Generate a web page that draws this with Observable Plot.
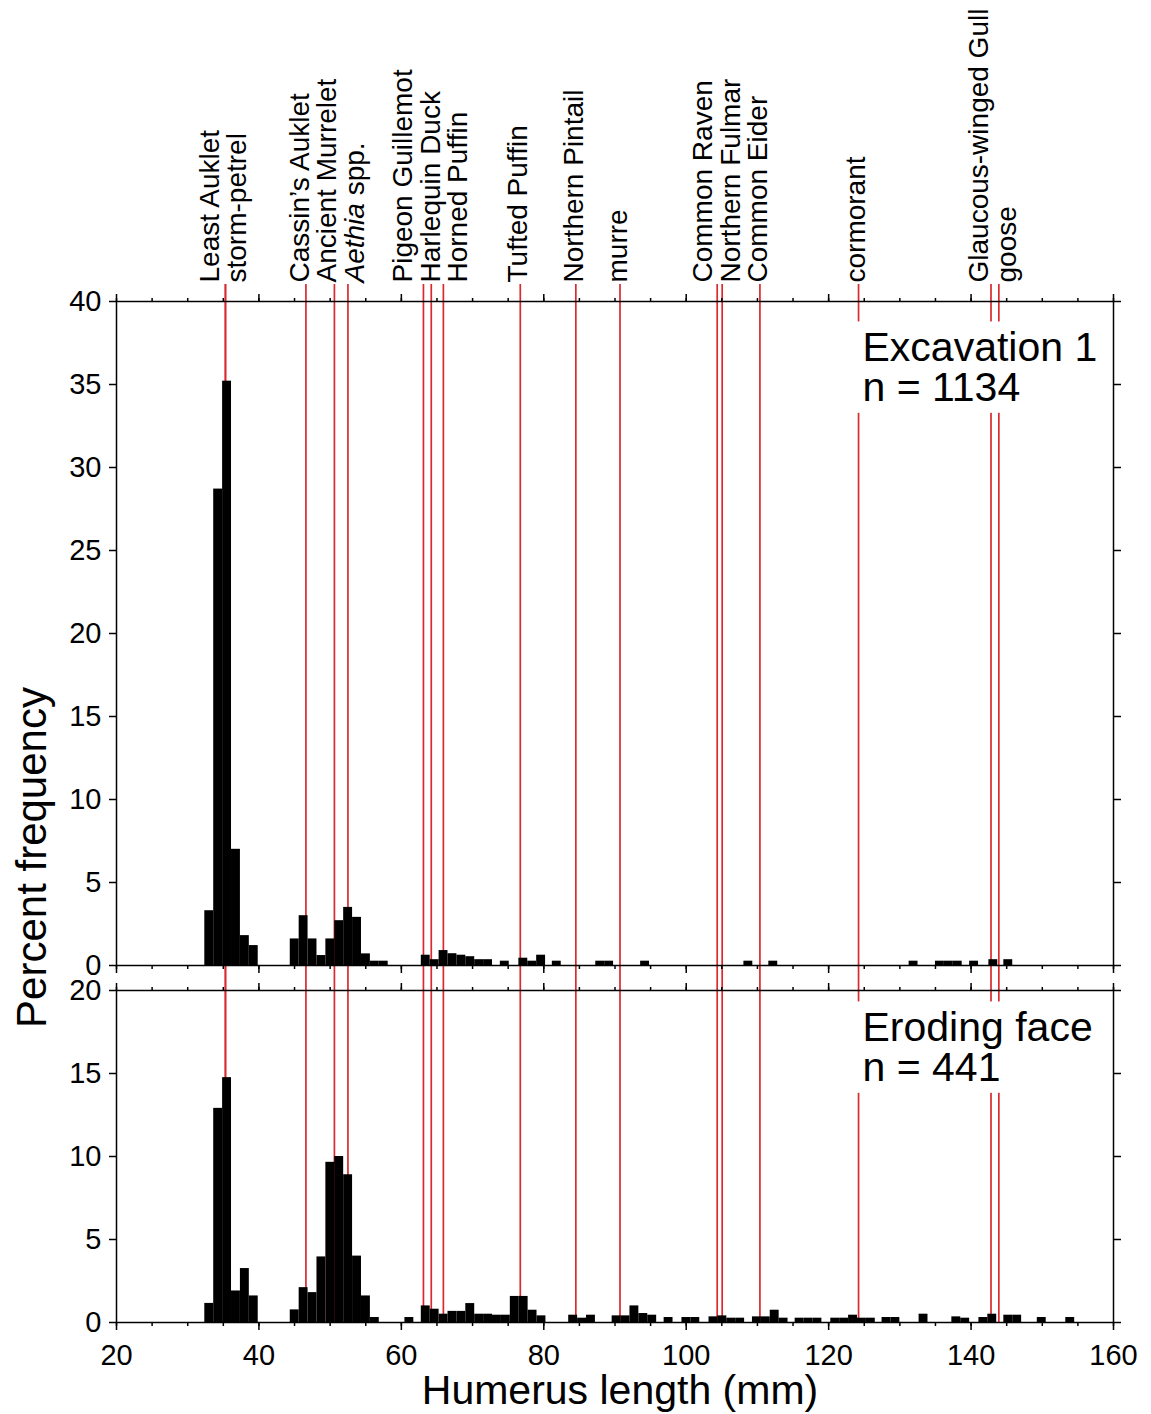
<!DOCTYPE html>
<html>
<head>
<meta charset="utf-8">
<script src="https://cdn.jsdelivr.net/npm/d3@7"></script>
<script src="https://cdn.jsdelivr.net/npm/@observablehq/plot@0.6"></script>
<style>
  body { margin: 0; background: #ffffff; }
  #chart { position: relative; width: 1151px; height: 1414px; }
  #chart svg { display: block; overflow: visible; background: transparent; }
</style>
</head>
<body>
<div id="chart"></div>
<script>
// ---------------- data ----------------
const binWidth = 1.25; // mm per histogram bar

// Species reference humerus lengths (mm)
const speciesNames = ["Least Auklet", "storm-petrel", "Cassin\u2019s Auklet", "Ancient Murrelet", "Aethia spp.",
  "Pigeon Guillemot", "Harlequin Duck", "Horned Puffin", "Tufted Puffin", "Northern Pintail", "murre",
  "Common Raven", "Northern Fulmar", "Common Eider", "cormorant", "Glaucous-winged Gull", "goose"];
const speciesLength = [35.3, 35.3, 46.6, 50.6, 52.5, 63.1, 64.2, 65.9, 76.7, 84.5, 90.7,
  104.35, 105.05, 110.35, 124.2, 142.8, 143.9];

// Excavation 1 (n = 1134): runs of adjacent bars, start (mm) and percent values
const excRunStart = [32.4, 44.4, 62.8, 73.9, 76.5, 81.2, 87.3, 93.6, 108.1, 111.6, 131.3, 135.0, 139.8, 142.5, 144.6];
const excRunPct = [
  [3.3, 28.7, 35.2, 7.0, 1.8, 1.2],
  [1.6, 3.0, 1.6, 0.6, 1.6, 2.7, 3.5, 2.9, 0.7, 0.26, 0.26],
  [0.62, 0.35, 0.9, 0.71, 0.62, 0.53, 0.35, 0.35],
  [0.26],
  [0.44, 0.26, 0.62],
  [0.26],
  [0.26, 0.26],
  [0.26],
  [0.26],
  [0.26],
  [0.26],
  [0.26, 0.26, 0.26],
  [0.26],
  [0.35],
  [0.35]
];

// Eroding face (n = 441)
const eroRunStart = [32.4, 44.4, 60.5, 62.8, 83.5, 89.6, 96.9, 99.4, 103.2, 109.3, 115.3, 120.3, 127.5, 132.7, 137.3, 141.1, 144.6, 149.3, 153.3];
const eroRunPct = [
  [1.15, 12.9, 14.75, 1.9, 3.25, 1.6],
  [0.76, 2.1, 1.8, 3.95, 9.65, 10.0, 8.9, 4.0, 1.6, 0.3],
  [0.3],
  [1.0, 0.8, 0.5, 0.67, 0.67, 1.14, 0.5, 0.5, 0.44, 0.44, 1.57, 1.57, 0.74, 0.4],
  [0.44, 0.26, 0.44],
  [0.4, 0.4, 1.0, 0.54, 0.44],
  [0.3],
  [0.3, 0.3],
  [0.34, 0.4, 0.26, 0.26],
  [0.34, 0.34, 0.74, 0.26],
  [0.26, 0.26, 0.26],
  [0.26, 0.26, 0.44, 0.26, 0.26],
  [0.3, 0.3],
  [0.5],
  [0.34, 0.26],
  [0.3, 0.5],
  [0.44, 0.44],
  [0.3],
  [0.3]
];

const panelTitles = ["Excavation 1\nn = 1134", "Eroding face\nn = 441"];
const xLabel = "Humerus length (mm)";
const yLabel = "Percent frequency";
const xMajorTicks = [20, 40, 60, 80, 100, 120, 140, 160];
const xMinorTicks = d3.range(20, 161, 5);
const yTicksTop = d3.range(0, 41, 5);
const yTicksBottom = d3.range(0, 21, 5);

// ---------------- helpers ----------------
const FONT = "'Liberation Sans', Arial, Helvetica, sans-serif";
const RED = "#d92a2f";

function toBars(starts, pcts) {
  const rows = [];
  starts.forEach((s, i) => pcts[i].forEach((v, j) =>
    rows.push({x1: s + j * binWidth, x2: s + (j + 1) * binWidth, base: 0, pct: v})));
  return rows;
}

// spread labels so that neighbouring rotated labels do not overlap (gap in mm)
function dodge(xs, gap) {
  const order = xs.map((x, i) => i).sort((a, b) => xs[a] - xs[b]);
  let groups = order.map(i => [i]);
  const place = g => {
    const c = d3.mean(g, i => xs[i]);
    return g.map((i, k) => c + (k - (g.length - 1) / 2) * gap);
  };
  let merged = true;
  while (merged) {
    merged = false;
    for (let k = 0; k < groups.length - 1; k++) {
      const a = place(groups[k]), b = place(groups[k + 1]);
      if (b[0] - a[a.length - 1] < gap - 1e-9) {
        groups.splice(k, 2, groups[k].concat(groups[k + 1]));
        merged = true;
        break;
      }
    }
  }
  const out = new Array(xs.length);
  groups.forEach(g => { const p = place(g); g.forEach((i, k) => out[i] = p[k]); });
  return out;
}

const species = speciesNames.map((name, i) => ({name, len: speciesLength[i]}));
const labelX = dodge(speciesLength, 3.86);
species.forEach((d, i) => d.labelX = labelX[i]);

const excBars = toBars(excRunStart, excRunPct);
const eroBars = toBars(eroRunStart, eroRunPct);

function xAxis(anchor, labels) {
  return [
    Plot.axisX({anchor, ticks: xMinorTicks, tickSize: 4, tickFormat: () => "", strokeWidth: 1.5, label: null}),
    Plot.axisX({anchor, ticks: xMajorTicks, tickSize: 8, tickPadding: 14, strokeWidth: 1.5,
      tickFormat: labels ? (d => String(d)) : () => "", fontSize: 29, label: null})
  ];
}
function yAxis(ticks) {
  return [
    Plot.axisY({anchor: "left", ticks, tickSize: 7, tickPadding: 8, strokeWidth: 1.5, fontSize: 29, label: null}),
    Plot.axisY({anchor: "right", ticks, tickSize: 7, tickFormat: () => "", strokeWidth: 1.5, label: null})
  ];
}
function panelText(t, dy) {
  return Plot.text([t], {
    frameAnchor: "top-right", textAnchor: "start", lineAnchor: "top",
    dx: -251, dy, fontSize: 41, lineHeight: 0.96, fill: "black"
  });
}

const baseStyle = {fontFamily: FONT, background: "transparent", overflow: "visible", color: "black"};

// ---------------- top panel ----------------
const topPlot = Plot.plot({
  width: 1151, height: 977,
  marginLeft: 116, marginRight: 38, marginTop: 301, marginBottom: 12,
  style: baseStyle,
  x: {domain: [20, 160], axis: null},
  y: {domain: [0, 40], axis: null},
  marks: [
    Plot.ruleX(species, {x: "len", stroke: RED, strokeWidth: 1.7, insetTop: -17, insetBottom: -12}),
    Plot.rect(excBars, {x1: "x1", x2: "x2", y1: "base", y2: "pct", fill: "black"}),
    Plot.text(species, {x: "labelX", text: "name", frameAnchor: "top", rotate: -90,
      textAnchor: "start", dx: -13, dy: -19, fontSize: 28, fill: "black"}),
    panelText(panelTitles[0], 32),
    ...xAxis("top", false),
    ...xAxis("bottom", false),
    ...yAxis(yTicksTop),
    Plot.frame({stroke: "black", strokeWidth: 1.5})
  ]
});

// ---------------- bottom panel ----------------
const bottomPlot = Plot.plot({
  width: 1151, height: 437,
  marginLeft: 116, marginRight: 38, marginTop: 13, marginBottom: 92,
  style: baseStyle,
  x: {domain: [20, 160], axis: null},
  y: {domain: [0, 20], axis: null},
  marks: [
    Plot.ruleX(species, {x: "len", stroke: RED, strokeWidth: 1.7, insetTop: -13}),
    Plot.rect(eroBars, {x1: "x1", x2: "x2", y1: "base", y2: "pct", fill: "black"}),
    panelText(panelTitles[1], 23),
    ...xAxis("top", false),
    ...xAxis("bottom", true),
    ...yAxis(yTicksBottom),
    Plot.frame({stroke: "black", strokeWidth: 1.5}),
    Plot.text([xLabel], {frameAnchor: "bottom", textAnchor: "middle", dx: 5, dy: 81, fontSize: 41, fill: "black"}),
    Plot.text([yLabel], {frameAnchor: "left", textAnchor: "middle", rotate: -90, dx: -84, dy: -299, fontSize: 42, fill: "black"})
  ]
});

const chart = document.getElementById("chart");
chart.appendChild(topPlot);
chart.appendChild(bottomPlot);

const NS = "http://www.w3.org/2000/svg";

// italicise the genus name in "Aethia spp."
topPlot.querySelectorAll("text").forEach(t => {
  if (t.textContent === "Aethia spp.") {
    t.textContent = "";
    const a = document.createElementNS(NS, "tspan");
    a.setAttribute("font-style", "italic");
    a.textContent = "Aethia";
    const b = document.createElementNS(NS, "tspan");
    b.textContent = " spp.";
    t.appendChild(a);
    t.appendChild(b);
  }
});

// white box behind each panel note, sized from the rendered text, so the reference lines break there
const noteStrings = panelTitles.map(s => s.replace("\n", ""));
[topPlot, bottomPlot].forEach(svg => {
  svg.querySelectorAll("text").forEach(t => {
    if (!noteStrings.includes(t.textContent)) return;
    const bb = t.getBBox();
    const r = document.createElementNS(NS, "rect");
    r.setAttribute("x", bb.x - 12);
    r.setAttribute("y", bb.y - 3);
    r.setAttribute("width", bb.width + 18);
    r.setAttribute("height", bb.height + 6);
    r.setAttribute("fill", "white");
    r.setAttribute("stroke", "none");
    const tr = t.getAttribute("transform");
    if (tr) r.setAttribute("transform", tr);
    t.parentNode.insertBefore(r, t);
  });
});
</script>
</body>
</html>
